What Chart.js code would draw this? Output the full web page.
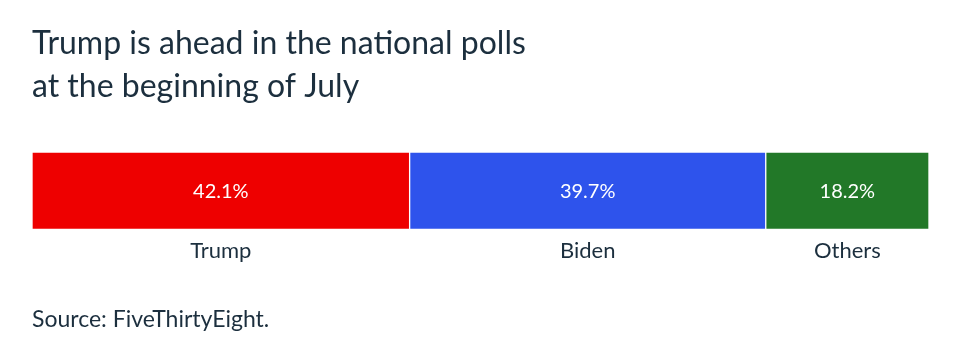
<!DOCTYPE html>
<html>
<head>
<meta charset="utf-8">
<script src="https://cdn.jsdelivr.net/npm/chart.js@4.4.1/dist/chart.umd.min.js"></script>
<style>
  html, body { margin: 0; padding: 0; background: #ffffff; }
  #wrap { width: 960px; height: 356px; position: relative; }
</style>
</head>
<body>
<div id="wrap"><canvas id="c"></canvas></div>
<script>
const titleLines = ['Trump is ahead in the national polls', 'at the beginning of July'];
const sourceText = 'Source: FiveThirtyEight.';
const categories = ['Trump', 'Biden', 'Others'];
const shares = [42.1, 39.7, 18.2];
const barColors = ['#ee0000', '#2e53ec', '#227828'];

const FONT = 'Lato, "Open Sans", sans-serif';
const TEXT = '#1c2f3e';

const segmentLabels = {
  id: 'segmentLabels',
  afterDatasetsDraw(chart) {
    const ctx = chart.ctx;
    ctx.save();
    chart.data.datasets.forEach((ds, i) => {
      const el = chart.getDatasetMeta(i).data[0];
      if (!el) return;
      const left = Math.min(el.base, el.x), right = Math.max(el.base, el.x);
      const cx = (left + right) / 2;
      const bottom = el.y + el.height / 2;
      ctx.textAlign = 'center';
      ctx.textBaseline = 'middle';
      ctx.fillStyle = '#ffffff';
      ctx.font = '20px ' + FONT;
      ctx.fillText(ds.data[0].toFixed(1) + '%', cx, el.y + 1);
      ctx.fillStyle = TEXT;
      ctx.font = '22px ' + FONT;
      ctx.fillText(ds.label, cx, bottom + 22);
    });
    ctx.restore();
  }
};

new Chart(document.getElementById('c'), {
  type: 'bar',
  data: {
    labels: [''],
    datasets: categories.map((name, i) => ({
      label: name,
      data: [shares[i]],
      backgroundColor: barColors[i],
      borderColor: '#ffffff',
      borderWidth: 1,
      borderSkipped: false,
      barPercentage: 1,
      categoryPercentage: 1
    }))
  },
  options: {
    indexAxis: 'y',
    responsive: true,
    maintainAspectRatio: false,
    animation: false,
    layout: { padding: { left: 32, right: 31, top: 0, bottom: 0 } },
    scales: {
      x: { stacked: true, min: 0, max: 100, display: false },
      y: { stacked: true, display: false }
    },
    plugins: {
      legend: { display: false },
      tooltip: { enabled: false },
      title: {
        display: true,
        text: titleLines,
        align: 'start',
        color: TEXT,
        font: { family: FONT, size: 32, weight: 'normal', lineHeight: 1.344 },
        padding: { top: 22, bottom: 44 }
      },
      subtitle: {
        display: true,
        position: 'bottom',
        text: sourceText,
        align: 'start',
        color: TEXT,
        font: { family: FONT, size: 23, weight: 'normal', lineHeight: 1.2 },
        padding: { top: 76, bottom: 23 }
      }
    }
  },
  plugins: [segmentLabels]
});
</script>
</body>
</html>
